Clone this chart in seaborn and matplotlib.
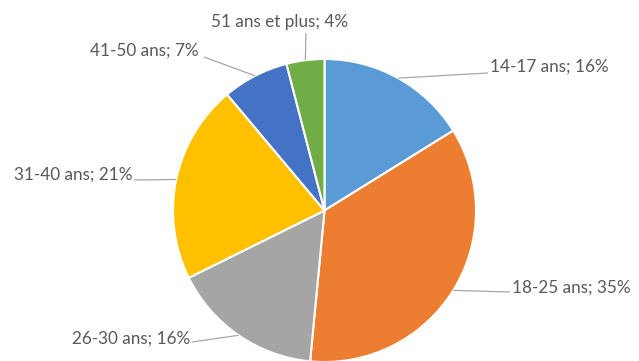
import matplotlib
matplotlib.use("Agg")
import matplotlib.pyplot as plt
import seaborn as sns
import numpy as np

# Répartition des répondants par tranche d'âge (%)
categories = ["14-17 ans", "18-25 ans", "26-30 ans", "31-40 ans", "41-50 ans", "51 ans et plus"]
values = [16, 35, 16, 21, 7, 4]
colors = ["#5B9BD5", "#ED7D31", "#A5A5A5", "#FFC000", "#4472C4", "#70AD47"]

sns.set_theme(style="white")
plt.rcParams["font.family"] = ["Lato", "DejaVu Sans"]

W, H = 639, 361
fig = plt.figure(figsize=(W / 100, H / 100), dpi=100)
ax = fig.add_axes([0, 0, 1, 1])
ax.set_xlim(0, W)
ax.set_ylim(0, H)
ax.set_aspect("equal")
ax.axis("off")

cx, cy, r = 324.5, H - 210.5, 151.5
wedges, _ = ax.pie(values, colors=sns.color_palette(colors), startangle=90,
                   counterclock=False, center=(cx, cy), radius=r,
                   wedgeprops=dict(edgecolor="white", linewidth=1.5))
ax.set_xlim(0, W)
ax.set_ylim(0, H)

# label placement: (text x, text y, ha, va, leader end points) in pixel coords, y from top
layout = [
    (490, 67, "left", "center", [(488, 73)]),
    (512, 288, "left", "center", [(510, 292)]),
    (190, 339, "right", "center", [(192, 342)]),
    (132, 175, "right", "center", [(134, 180)]),
    (199, 51, "right", "center", [(204, 57)]),
    (280, 22, "center", "center", [(306, 33)]),
]

txt_color = "#595959"
line_color = "#A6A6A6"
for w, cat, val, (tx, ty, ha, va, pts) in zip(wedges, categories, values, layout):
    mid = np.deg2rad((w.theta1 + w.theta2) / 2)
    sx, sy = cx + r * np.cos(mid), cy + r * np.sin(mid)
    xs = [sx] + [p[0] for p in pts]
    ys = [sy] + [H - p[1] for p in pts]
    ax.plot(xs, ys, color=line_color, linewidth=0.9, solid_capstyle="butt")
    ax.text(tx, H - ty, f"{cat}; {val}%", ha=ha, va=va, fontsize=12.3, color=txt_color)

fig.savefig("out.png", dpi=100, facecolor="white")
